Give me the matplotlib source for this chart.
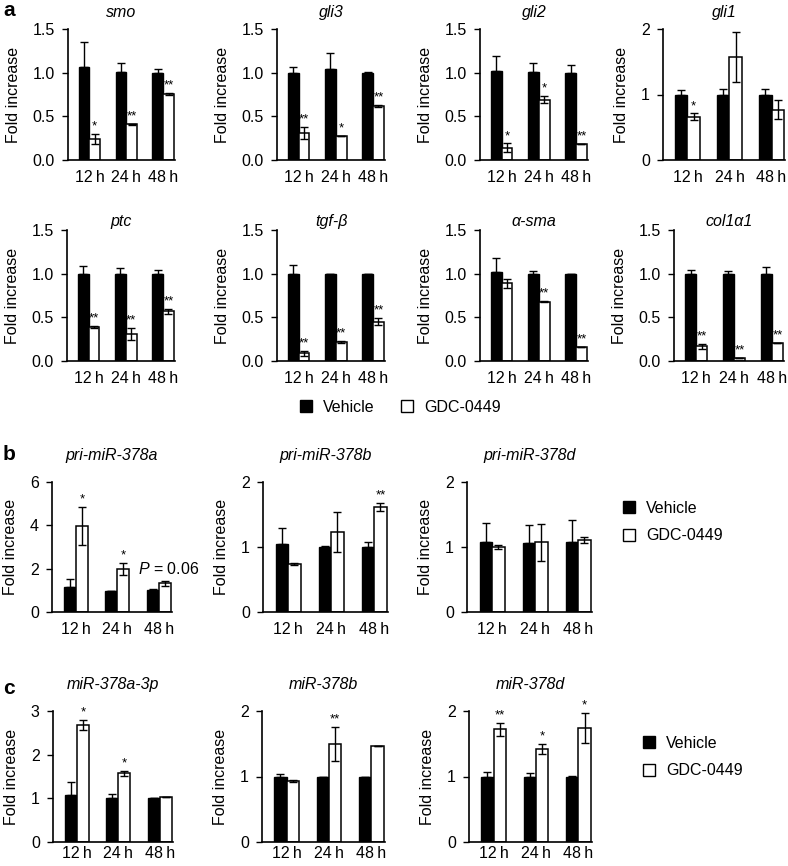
import numpy as np
import matplotlib
matplotlib.use('Agg')
import matplotlib.pyplot as plt
from matplotlib.lines import Line2D

plt.rcParams['font.family'] = ['Liberation Sans', 'DejaVu Sans']
plt.rcParams['mathtext.fontset'] = 'custom'
plt.rcParams['mathtext.it'] = 'Liberation Sans:italic'
plt.rcParams['mathtext.rm'] = 'Liberation Sans'

times = ['12\u2009h', '24\u2009h', '48\u2009h']

# panel a
smo_veh = [1.07, 1.01, 1.00]
smo_veh_err = [0.28, 0.10, 0.04]
smo_gdc = [0.24, 0.41, 0.76]
smo_gdc_err = [0.06, 0.005, 0.01]
smo_sig = ['*', '**', '**']

gli3_veh = [1.00, 1.04, 1.00]
gli3_veh_err = [0.07, 0.18, 0.01]
gli3_gdc = [0.31, 0.28, 0.62]
gli3_gdc_err = [0.07, 0.0, 0.01]
gli3_sig = ['**', '*', '**']

gli2_veh = [1.02, 1.01, 1.00]
gli2_veh_err = [0.17, 0.10, 0.09]
gli2_gdc = [0.14, 0.69, 0.18]
gli2_gdc_err = [0.05, 0.04, 0.0]
gli2_sig = ['*', '*', '**']

gli1_veh = [0.99, 0.99, 0.99]
gli1_veh_err = [0.08, 0.10, 0.09]
gli1_gdc = [0.66, 1.57, 0.77]
gli1_gdc_err = [0.05, 0.38, 0.14]
gli1_sig = ['*', '', '']

ptc_veh = [1.00, 1.00, 1.00]
ptc_veh_err = [0.09, 0.06, 0.04]
ptc_gdc = [0.39, 0.31, 0.57]
ptc_gdc_err = [0.01, 0.07, 0.03]
ptc_sig = ['**', '**', '**']

tgf_veh = [1.00, 1.00, 1.00]
tgf_veh_err = [0.10, 0.0, 0.0]
tgf_gdc = [0.09, 0.22, 0.45]
tgf_gdc_err = [0.03, 0.01, 0.04]
tgf_sig = ['**', '**', '**']

sma_veh = [1.02, 1.00, 1.00]
sma_veh_err = [0.16, 0.03, 0.0]
sma_gdc = [0.89, 0.68, 0.16]
sma_gdc_err = [0.05, 0.005, 0.0]
sma_sig = ['', '**', '**']

col_veh = [1.00, 1.00, 1.00]
col_veh_err = [0.04, 0.03, 0.08]
col_gdc = [0.17, 0.04, 0.21]
col_gdc_err = [0.03, 0.0, 0.0]
col_sig = ['**', '**', '**']

# panel b
pria_veh = [1.14, 0.99, 1.00]
pria_veh_err = [0.38, 0.0, 0.06]
pria_gdc = [3.98, 2.00, 1.32]
pria_gdc_err = [0.88, 0.27, 0.12]
pria_sig = ['*', '*', '']

prib_veh = [1.05, 1.00, 1.00]
prib_veh_err = [0.24, 0.01, 0.08]
prib_gdc = [0.74, 1.23, 1.62]
prib_gdc_err = [0.02, 0.31, 0.06]
prib_sig = ['', '', '**']

prid_veh = [1.07, 1.06, 1.08]
prid_veh_err = [0.30, 0.28, 0.33]
prid_gdc = [1.00, 1.07, 1.11]
prid_gdc_err = [0.03, 0.29, 0.05]
prid_sig = ['', '', '']

# panel c
mira_veh = [1.08, 1.01, 1.00]
mira_veh_err = [0.30, 0.10, 0.01]
mira_gdc = [2.68, 1.57, 1.03]
mira_gdc_err = [0.11, 0.05, 0.0]
mira_sig = ['*', '*', '']

mirb_veh = [1.00, 1.00, 1.00]
mirb_veh_err = [0.04, 0.0, 0.0]
mirb_gdc = [0.93, 1.50, 1.46]
mirb_gdc_err = [0.02, 0.26, 0.0]
mirb_sig = ['', '**', '']

mird_veh = [1.00, 1.00, 1.00]
mird_veh_err = [0.07, 0.05, 0.01]
mird_gdc = [1.72, 1.42, 1.74]
mird_gdc_err = [0.10, 0.08, 0.23]
mird_sig = ['**', '*', '*']

W, H = 788, 866
FS = 11.5
fig = plt.figure(figsize=(W / 100, H / 100), dpi=100)


def px_axes(left, top, width, height):
    return fig.add_axes([left / W, 1 - (top + height) / H, width / W, height / H])


def panel(rect, title, veh, veh_err, gdc, gdc_err, sig, ymax, yticks, ylabels, pad, xpad=7):
    ax = px_axes(*rect)
    x = np.arange(len(times))
    bw = 0.29
    ax.bar(x - bw / 2, veh, bw, color='black', edgecolor='black', linewidth=1)
    ax.bar(x + bw / 2, gdc, bw, color='white', edgecolor='black', linewidth=1.1)
    ax.errorbar(x - bw / 2, veh, yerr=[np.zeros(3), veh_err], fmt='none',
                ecolor='black', elinewidth=1, capsize=3, capthick=1)
    ax.errorbar(x + bw / 2, gdc, yerr=gdc_err, fmt='none',
                ecolor='black', elinewidth=1, capsize=3, capthick=1)
    for i, s in enumerate(sig):
        if s:
            ax.annotate(s, (x[i] + bw / 2, gdc[i] + gdc_err[i]), xytext=(0, 1),
                        textcoords='offset points', ha='center', va='bottom',
                        fontsize=9.5)
    ax.set_xlim(-0.58, 2.32)
    ax.set_ylim(0, ymax)
    ax.set_yticks(yticks)
    ax.set_yticklabels(ylabels)
    ax.set_xticks(x)
    ax.set_xticklabels(times)
    ax.tick_params(axis='x', length=0, pad=xpad, labelsize=FS)
    ax.tick_params(axis='y', length=4.5, width=1, pad=5, labelsize=FS)
    for sp in ['top', 'right']:
        ax.spines[sp].set_visible(False)
    for sp in ['left', 'bottom']:
        ax.spines[sp].set_linewidth(1.2)
    ax.set_ylabel('Fold increase', fontsize=FS, labelpad=8.5)
    ax.set_title(title, fontsize=FS, style='italic', pad=pad)
    return ax


t15 = [0, 0.5, 1.0, 1.5]
l15 = ['0.0', '0.5', '1.0', '1.5']

panel((68, 29, 107, 131), 'smo', smo_veh, smo_veh_err, smo_gdc, smo_gdc_err, smo_sig, 1.5, t15, l15, 8.5)
panel((277, 29, 108, 131), 'gli3', gli3_veh, gli3_veh_err, gli3_gdc, gli3_gdc_err, gli3_sig, 1.5, t15, l15, 8.5)
panel((480, 29, 108, 131), 'gli2', gli2_veh, gli2_veh_err, gli2_gdc, gli2_gdc_err, gli2_sig, 1.5, t15, l15, 8.5)
panel((663, 29, 122, 131), 'gli1', gli1_veh, gli1_veh_err, gli1_gdc, gli1_gdc_err, gli1_sig, 2, [0, 1, 2], ['0', '1', '2'], 8.5)

panel((67, 230, 108, 131), 'ptc', ptc_veh, ptc_veh_err, ptc_gdc, ptc_gdc_err, ptc_sig, 1.5, t15, l15, 3)
panel((277, 230, 108, 131), 'tgf-β', tgf_veh, tgf_veh_err, tgf_gdc, tgf_gdc_err, tgf_sig, 1.5, t15, l15, 3)
panel((480, 230, 108, 131), 'α-sma', sma_veh, sma_veh_err, sma_gdc, sma_gdc_err, sma_sig, 1.5, t15, l15, 3)
panel((674, 230, 110, 131), 'col1α1', col_veh, col_veh_err, col_gdc, col_gdc_err, col_sig, 1.5, t15, l15, 3)

axb1 = panel((52, 482, 120, 130), 'pri-miR-378a', pria_veh, pria_veh_err, pria_gdc, pria_gdc_err, pria_sig,
             6, [0, 2, 4, 6], ['0', '2', '4', '6'], 16)
axb1.text(1.5, 2.0, '$P$ = 0.06', fontsize=FS, va='center', ha='left')
panel((263, 482, 125, 130), 'pri-miR-378b', prib_veh, prib_veh_err, prib_gdc, prib_gdc_err, prib_sig,
      2, [0, 1, 2], ['0', '1', '2'], 16)
panel((467, 482, 125, 130), 'pri-miR-378d', prid_veh, prid_veh_err, prid_gdc, prid_gdc_err, prid_sig,
      2, [0, 1, 2], ['0', '1', '2'], 16)

panel((53, 711, 120, 131), 'miR-378a-3p', mira_veh, mira_veh_err, mira_gdc, mira_gdc_err, mira_sig,
      3, [0, 1, 2, 3], ['0', '1', '2', '3'], 16, xpad=3)
panel((262, 711, 123, 131), 'miR-378b', mirb_veh, mirb_veh_err, mirb_gdc, mirb_gdc_err, mirb_sig,
      2, [0, 1, 2], ['0', '1', '2'], 16, xpad=3)
panel((469, 711, 123, 131), 'miR-378d', mird_veh, mird_veh_err, mird_gdc, mird_gdc_err, mird_sig,
      2, [0, 1, 2], ['0', '1', '2'], 16, xpad=3)

handles = [Line2D([], [], marker='s', linestyle='none', markersize=8,
                  markerfacecolor='black', markeredgecolor='black'),
           Line2D([], [], marker='s', linestyle='none', markersize=8,
                  markerfacecolor='white', markeredgecolor='black')]
labels = ['Vehicle', 'GDC-0449']

fig.legend(handles, labels, ncol=2, loc='center', bbox_to_anchor=(400 / W, 1 - 407 / H),
           frameon=False, fontsize=FS, handlelength=0.8, handletextpad=0.7, columnspacing=1.6)
fig.legend(handles, labels, loc='center left', bbox_to_anchor=(608 / W, 1 - 522 / H),
           frameon=False, fontsize=FS, handlelength=0.8, handletextpad=0.7, labelspacing=0.8)
fig.legend(handles, labels, loc='center left', bbox_to_anchor=(628 / W, 1 - 757 / H),
           frameon=False, fontsize=FS, handlelength=0.8, handletextpad=0.7, labelspacing=0.8)

fig.text(3 / W, 1 - 10 / H, 'a', fontsize=15, fontweight='bold', va='center', ha='left')
fig.text(3 / W, 1 - 455 / H, 'b', fontsize=15, fontweight='bold', va='center', ha='left')
fig.text(3 / W, 1 - 689 / H, 'c', fontsize=15, fontweight='bold', va='center', ha='left')

fig.savefig('out.png', dpi=100)
